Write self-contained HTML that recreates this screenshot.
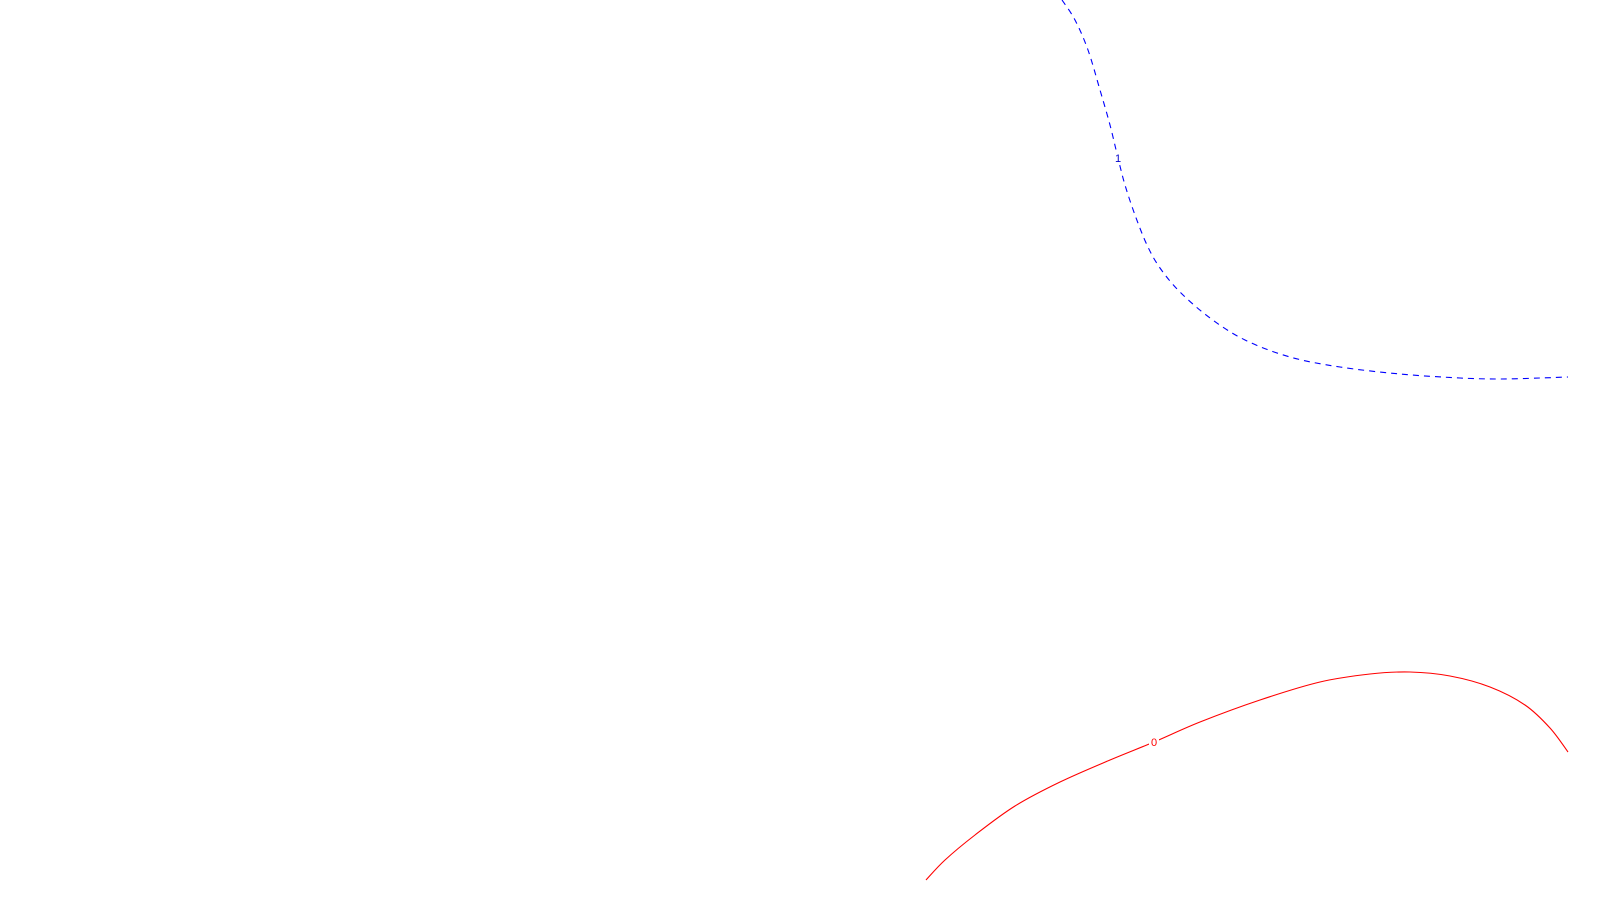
<!DOCTYPE html>
<html><head><meta charset="utf-8"><style>
html,body{margin:0;padding:0;background:#fff;width:1600px;height:900px;overflow:hidden}
svg{display:block}
text{font-family:"Liberation Sans",sans-serif;font-size:11px}
</style></head><body>
<svg id="chart" width="1600" height="900" xmlns="http://www.w3.org/2000/svg"></svg>
<script>
// contour level 1 (blue dashed), data units: x 0..16, y 0..9 (top=9)
const level1X = [10.62,10.75,10.88,11.00,11.10,11.18,11.25,11.35,11.47,11.60,11.80,12.10,12.45,12.90,13.40,14.00,14.60,15.00,15.40,15.68];
const level1Y = [9.00,8.80,8.50,8.10,7.75,7.42,7.15,6.85,6.55,6.32,6.08,5.82,5.60,5.43,5.33,5.26,5.22,5.21,5.22,5.23];
// contour level 0 (red solid)
const level0X = [9.26,9.45,9.75,10.15,10.60,11.10,11.54,12.00,12.60,13.20,13.70,14.10,14.50,14.90,15.25,15.50,15.68];
const level0Y = [0.20,0.40,0.65,0.94,1.18,1.40,1.58,1.78,2.00,2.18,2.26,2.28,2.24,2.13,1.95,1.72,1.48];
const levelLabels = ["1","0"];
const label1Idx = 5, label0Idx = 6;

const W=1600,H=900;
const sx = v => v/16*W;
const sy = v => H - v/9*H;
const NS="http://www.w3.org/2000/svg";
const svg=document.getElementById('chart');

function drawLine(xs,ys,color,dash,name){
  const p=document.createElementNS(NS,'path');
  let d='';
  // Catmull-Rom smoothing
  const pts=xs.map((x,i)=>[sx(x),sy(ys[i])]);
  d='M'+pts[0][0]+','+pts[0][1];
  for(let i=0;i<pts.length-1;i++){
    const p0=pts[Math.max(0,i-1)],p1=pts[i],p2=pts[i+1],p3=pts[Math.min(pts.length-1,i+2)];
    const c1=[p1[0]+(p2[0]-p0[0])/6,p1[1]+(p2[1]-p0[1])/6];
    const c2=[p2[0]-(p3[0]-p1[0])/6,p2[1]-(p3[1]-p1[1])/6];
    d+=` C${c1[0]},${c1[1]} ${c2[0]},${c2[1]} ${p2[0]},${p2[1]}`;
  }
  p.setAttribute('d',d);
  p.setAttribute('fill','none');
  p.setAttribute('stroke',color);
  p.setAttribute('stroke-width','1.1');
  if(dash)p.setAttribute('stroke-dasharray',dash);
  
  
  svg.appendChild(p);
}
function drawLabel(x,y,txt,color,name){
  const bg=document.createElementNS(NS,'rect');
  bg.setAttribute('x',sx(x)-5);bg.setAttribute('y',sy(y)-7);
  bg.setAttribute('width',10);bg.setAttribute('height',14);bg.setAttribute('fill','#fff');
  
  
  svg.appendChild(bg);
  const t=document.createElementNS(NS,'text');
  t.setAttribute('x',sx(x));t.setAttribute('y',sy(y)+4);
  t.setAttribute('text-anchor','middle');t.setAttribute('fill',color);
  t.textContent=txt;
  
  
  svg.appendChild(t);
}
drawLine(level1X,level1Y,'#0000ff','6,5','contour-level-1');
drawLine(level0X,level0Y,'#ff0000',null,'contour-level-0');
drawLabel(level1X[label1Idx],level1Y[label1Idx],levelLabels[0],'#0000cc','contour-label-1');
drawLabel(level0X[label0Idx],level0Y[label0Idx],levelLabels[1],'#ff0000','contour-label-0');
</script>
</body></html>
